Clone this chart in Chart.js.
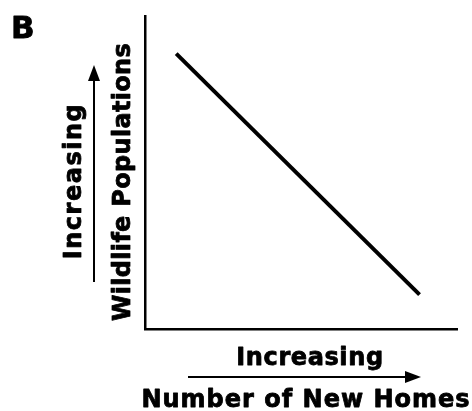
<!DOCTYPE html>
<html>
<head>
<meta charset="utf-8">
<script src="https://cdn.jsdelivr.net/npm/chart.js@4"></script>
<style>
  body { margin: 0; background: #fff; }
  canvas { display: block; }
</style>
</head>
<body>
<canvas id="grafica" width="472" height="411"></canvas>
<script>
// data (0-100 relative units)
var homes = [10, 88];
var wildlife = [88, 11];
var panelLabel = "B";
var xTitles = ["Increasing", "Number of New Homes"];
var yTitles = ["Increasing", "Wildlife Populations"];

var puntos = homes.map((h, i) => ({ x: h, y: wildlife[i] }));
var fuente = "bold 24px 'DejaVu Sans', Verdana, sans-serif";

function flecha(ctx, x1, y1, x2, y2) {
    var ang = Math.atan2(y2 - y1, x2 - x1);
    var largo = 16, ancho = 6;
    ctx.beginPath();
    ctx.moveTo(x1, y1);
    ctx.lineTo(x2 - Math.cos(ang) * largo, y2 - Math.sin(ang) * largo);
    ctx.lineWidth = 2;
    ctx.stroke();
    ctx.beginPath();
    ctx.moveTo(x2, y2);
    ctx.lineTo(x2 - Math.cos(ang) * largo - Math.sin(ang) * ancho, y2 - Math.sin(ang) * largo + Math.cos(ang) * ancho);
    ctx.lineTo(x2 - Math.cos(ang) * largo + Math.sin(ang) * ancho, y2 - Math.sin(ang) * largo - Math.cos(ang) * ancho);
    ctx.closePath();
    ctx.fill();
}

// bold text with a thin outline, closer to the heavy face of the original
function texto(ctx, t, x, y) {
    ctx.lineWidth = 0.8;
    ctx.fillText(t, x, y);
    ctx.strokeText(t, x, y);
}

var etiquetas = {
    id: "etiquetas",
    afterDraw(chart) {
        var ctx = chart.ctx;
        ctx.save();
        ctx.fillStyle = "#000";
        ctx.strokeStyle = "#000";
        ctx.lineJoin = "round";
        ctx.textBaseline = "alphabetic";

        ctx.textAlign = "left";
        ctx.font = "bold 31px 'DejaVu Sans', Verdana, sans-serif";
        texto(ctx, panelLabel, 11, 38);

        ctx.textAlign = "center";
        ctx.font = fuente;
        // x axis labels
        ctx.letterSpacing = "0.6px";
        texto(ctx, xTitles[0], 310, 365);
        flecha(ctx, 188, 377, 421, 377);
        ctx.letterSpacing = "1px";
        texto(ctx, xTitles[1], 306, 407);

        // y axis labels
        ctx.letterSpacing = "1.5px";
        ctx.save();
        ctx.translate(81, 181);
        ctx.rotate(-Math.PI / 2);
        texto(ctx, yTitles[0], 0, 0);
        ctx.restore();
        flecha(ctx, 94, 282, 94, 65);
        ctx.letterSpacing = "0.3px";
        ctx.save();
        ctx.translate(130, 182);
        ctx.rotate(-Math.PI / 2);
        texto(ctx, yTitles[1], 0, 0);
        ctx.restore();

        ctx.restore();
    }
};

new Chart(document.getElementById("grafica").getContext("2d"), {
    type: "line",
    data: {
        datasets: [{
            data: puntos,
            borderColor: "#000",
            borderWidth: 4,
            pointRadius: 0,
            fill: false
        }]
    },
    options: {
        responsive: false,
        animation: false,
        layout: { padding: { left: 145, right: 15, top: 16, bottom: 82 } },
        plugins: { legend: { display: false }, tooltip: { enabled: false } },
        scales: {
            x: {
                type: "linear", min: 0, max: 100,
                grid: { display: false, drawTicks: false },
                border: { color: "#000", width: 2.5 },
                ticks: { display: false }
            },
            y: {
                min: 0, max: 100,
                grid: { display: false, drawTicks: false },
                border: { color: "#000", width: 2.5 },
                ticks: { display: false }
            }
        }
    },
    plugins: [etiquetas]
});
</script>
</body>
</html>
